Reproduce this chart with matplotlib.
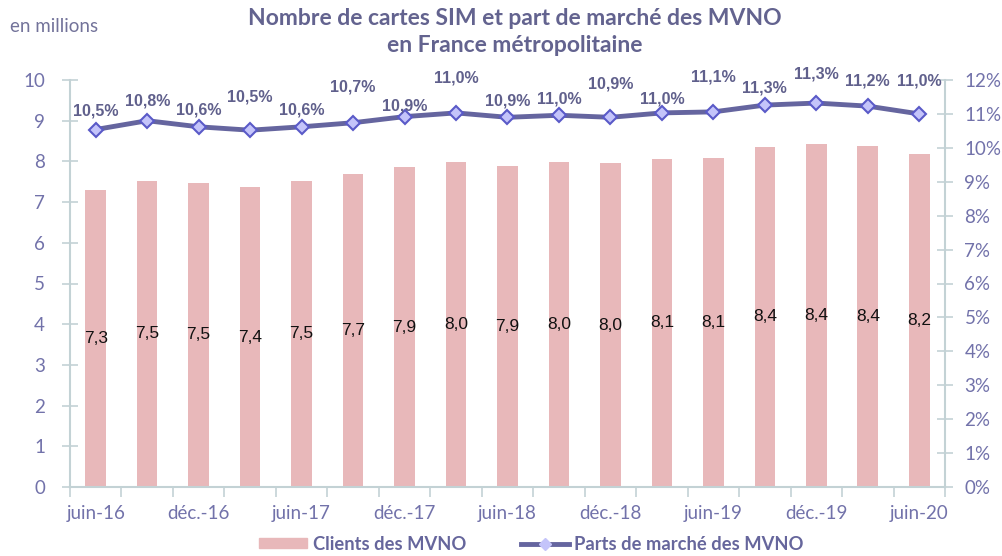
import numpy as np
import matplotlib.pyplot as plt
from matplotlib.patches import Patch
from matplotlib.lines import Line2D

# données
periodes = ['juin-16', 'sept.-16', 'déc.-16', 'mars-17', 'juin-17', 'sept.-17', 'déc.-17', 'mars-18',
            'juin-18', 'sept.-18', 'déc.-18', 'mars-19', 'juin-19', 'sept.-19', 'déc.-19', 'mars-20', 'juin-20']
clients = [7.30, 7.53, 7.47, 7.37, 7.53, 7.68, 7.86, 7.98, 7.89, 7.98, 7.96, 8.07, 8.09, 8.36, 8.42, 8.37, 8.19]
parts = [10.54, 10.80, 10.62, 10.52, 10.62, 10.74, 10.92, 11.03, 10.90, 10.96, 10.90, 11.03, 11.06, 11.26, 11.32, 11.23, 11.00]

# décalage vertical des étiquettes de la courbe (en points)
decal = [13, 14, 12, 24, 12, 26, 8, 25, 12, 12, 24, 10, 25, 12, 21, 18, 24]

c_barre = '#e8b8ba'
c_ligne = '#65659f'
c_texte = '#7272aa'
c_axe = '#c3d2d5'
police = 'Lato'

fig = plt.figure(figsize=(10.03, 5.56), dpi=100)
ax = fig.add_axes([70 / 1003, 69 / 556, 875 / 1003, 407 / 556])
ax2 = ax.twinx()

x = np.arange(len(periodes))
ax.bar(x, clients, width=0.40, color=c_barre, zorder=2)
for xi, v in zip(x, clients):
    ax.text(xi, v / 2, f'{v:.1f}'.replace('.', ','), ha='center', va='center',
            fontsize=12.5, family='Liberation Sans', color='#111111', zorder=3)

ax2.plot(x, parts, color=c_ligne, lw=3.5, marker='D', ms=7, mfc='#c4c4fa', mec='#5a5ac8', mew=1.5, zorder=3)
for xi, v, d in zip(x, parts, decal):
    ax2.annotate(f'{v:.1f}%'.replace('.', ','), (xi, v), xytext=(0, d), textcoords='offset points',
                 ha='center', va='center', fontsize=11.5, fontweight='bold',
                 family='Liberation Sans', color='#60608c')

ax.set_xlim(-0.5, len(periodes) - 0.5)
ax.set_ylim(0, 10)
ax2.set_ylim(0, 12)
ax.set_yticks(range(0, 11))
ax2.set_yticks(range(0, 13))
ax2.set_yticklabels([f'{i}%' for i in range(0, 13)])

ax.set_xticks(x[::2])
ax.set_xticklabels(periodes[::2])
ax.set_xticks(np.arange(-0.5, len(periodes), 1), minor=True)
ax.tick_params(axis='x', which='major', length=0, pad=13)
ax.tick_params(axis='x', which='minor', length=7, direction='out', color=c_axe, width=1.2)

for a in (ax, ax2):
    for s in a.spines.values():
        s.set_visible(False)
    a.tick_params(axis='y', direction='inout', length=12, color=c_axe, width=1.2,
                  labelsize=13.5, labelcolor=c_texte)
    a.tick_params(axis='x', labelsize=13.5, labelcolor=c_texte)
    for lab in a.get_xticklabels() + a.get_yticklabels():
        lab.set_family(police)
ax.spines['left'].set_visible(True)
ax.spines['bottom'].set_visible(True)
ax2.spines['right'].set_visible(True)
for s in (ax.spines['left'], ax.spines['bottom'], ax2.spines['right']):
    s.set_color(c_axe)
    s.set_linewidth(1.5)
ax.tick_params(axis='y', pad=12)
ax2.tick_params(axis='y', pad=8)

fig.text(515 / 1003, 1 - 32 / 556, 'Nombre de cartes SIM et part de marché des MVNO\nen France métropolitaine',
         ha='center', va='center', fontsize=16.5, fontweight='bold', family=police,
         color='#63638f', linespacing=1.4)
fig.text(10 / 1003, 1 - 27 / 556, 'en millions', ha='left', va='center', fontsize=13.5,
         family=police, color='#73739a')

poignees = [Patch(color=c_barre),
            Line2D([], [], color=c_ligne, lw=3.5, marker='D', ms=6, mfc='#c4c4fa', mec='#c4c4fa')]
leg = fig.legend(poignees, ['Clients des MVNO', 'Parts de marché des MVNO'], loc='center',
                 bbox_to_anchor=(0.53, 1 - 544 / 556), ncol=2, frameon=False, handlelength=2.6,
                 handleheight=0.5, columnspacing=3, handletextpad=0.3,
                 prop={'family': police, 'weight': 'bold', 'size': 13.2})
for t in leg.get_texts():
    t.set_color('#66669c')

fig.savefig('out.png', dpi=100)
